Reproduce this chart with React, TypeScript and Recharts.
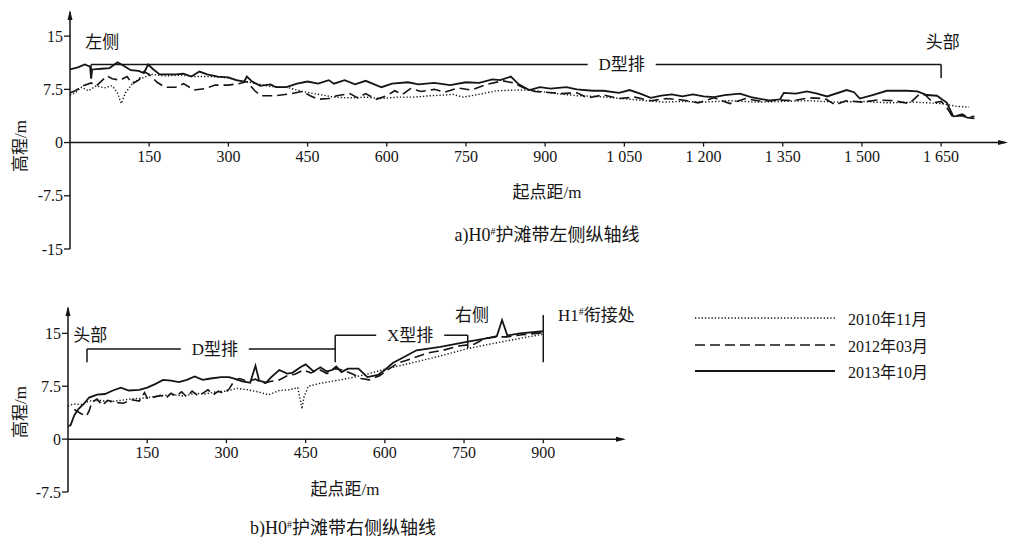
import React from "react";
import { LineChart, Line, XAxis, YAxis, ReferenceLine, ReferenceDot, Legend } from "recharts";

const INK = "#151515";
const FONT = '"Liberation Serif", "Times New Roman", "Noto Sans CJK SC", serif';

// ---- a) left longitudinal axis, [distance m, elevation m]
const top2010 = [
  [0, 6.7], [10, 7.0], [22, 7.8], [35, 7.3], [50, 8.0], [65, 7.7], [80, 8.0], [90, 7.0], [97, 5.5], [105, 7.0],
  [120, 8.5], [140, 9.2], [155, 9.6], [180, 9.4], [210, 9.5], [240, 9.3], [270, 9.3], [300, 9.1], [320, 8.7],
  [340, 8.5], [360, 8.2], [380, 7.9], [410, 7.8], [440, 7.2], [470, 6.8], [500, 6.4], [530, 6.3], [560, 6.4],
  [590, 6.2], [620, 6.4], [650, 6.4], [682, 6.6], [710, 6.7], [725, 6.8], [745, 6.4], [775, 6.8], [808, 7.3],
  [846, 7.4], [860, 7.4], [884, 7.3], [910, 7.0], [934, 6.8], [960, 6.6], [998, 6.5], [1030, 6.3], [1061, 6.1],
  [1090, 5.9], [1124, 5.7], [1160, 5.8], [1200, 5.7], [1250, 5.9], [1300, 5.7], [1350, 5.8], [1400, 5.9],
  [1450, 5.7], [1500, 5.8], [1550, 5.6], [1600, 5.7], [1650, 5.5], [1680, 5.1], [1703, 5.0],
];
const top2012 = [
  [0, 7.0], [10, 7.3], [25, 8.0], [40, 8.4], [50, 8.0], [60, 8.7], [70, 9.4], [80, 9.0], [95, 8.8], [108, 9.3],
  [118, 8.3], [130, 8.8], [140, 10.0], [150, 9.6], [165, 8.5], [180, 7.8], [200, 7.8], [215, 8.3], [235, 7.4],
  [255, 7.6], [275, 8.1], [300, 8.1], [320, 8.3], [335, 8.6], [350, 7.3], [362, 6.6], [390, 6.6], [420, 6.9],
  [440, 7.2], [455, 6.6], [470, 6.1], [490, 6.2], [505, 6.6], [530, 6.9], [545, 6.3], [560, 6.9], [580, 6.1],
  [600, 6.6], [615, 7.3], [630, 6.8], [645, 7.6], [665, 7.2], [690, 7.5], [710, 7.1], [735, 7.7], [760, 7.4],
  [790, 8.2], [820, 8.7], [840, 8.4], [860, 7.7], [880, 7.2], [900, 7.1], [930, 6.9], [960, 7.0], [980, 6.3],
  [1010, 6.7], [1040, 6.2], [1070, 6.4], [1100, 5.9], [1130, 6.2], [1160, 6.0], [1190, 5.6], [1220, 6.3],
  [1250, 5.5], [1280, 6.2], [1310, 5.8], [1340, 6.0], [1370, 5.9], [1400, 6.3], [1430, 6.2], [1450, 5.3],
  [1470, 5.9], [1500, 5.7], [1530, 6.0], [1560, 5.9], [1590, 5.5], [1610, 6.9], [1620, 6.7], [1635, 5.6],
  [1650, 5.8], [1662, 4.8], [1672, 3.6], [1690, 4.0], [1700, 3.6], [1713, 3.7],
];
const top2013 = [
  [0, 10.3], [15, 10.6], [28, 11.0], [38, 10.7], [40, 9.0], [42, 10.3], [60, 10.4], [75, 10.5], [90, 11.3],
  [100, 10.9], [115, 10.2], [130, 10.1], [140, 9.8], [148, 11.0], [158, 10.3], [170, 9.6], [200, 9.6], [215, 9.7],
  [230, 9.3], [245, 10.0], [260, 9.6], [280, 9.3], [300, 9.2], [315, 8.8], [330, 8.6], [335, 9.3], [345, 8.6],
  [360, 8.0], [380, 8.2], [390, 7.8], [410, 7.8], [430, 8.3], [450, 8.6], [470, 8.3], [490, 8.8], [500, 8.3],
  [520, 8.8], [540, 8.2], [560, 8.7], [590, 7.8], [610, 8.3], [640, 8.5], [660, 8.2], [690, 8.4], [720, 8.1],
  [750, 8.5], [775, 8.4], [800, 8.9], [815, 8.8], [835, 9.3], [850, 8.2], [870, 7.4], [890, 7.8], [910, 7.6],
  [940, 7.8], [960, 7.5], [990, 7.3], [1010, 7.3], [1040, 7.0], [1060, 7.4], [1080, 6.9], [1100, 6.3],
  [1120, 6.6], [1140, 6.8], [1160, 6.5], [1180, 6.8], [1200, 6.5], [1220, 6.4], [1240, 6.7], [1269, 6.9],
  [1290, 6.4], [1326, 5.9], [1345, 6.1], [1352, 7.0], [1375, 6.9], [1396, 7.2], [1415, 6.9], [1434, 6.5],
  [1471, 7.4], [1485, 7.1], [1496, 6.2], [1520, 6.7], [1547, 7.3], [1585, 7.3], [1605, 7.2], [1623, 6.7],
  [1642, 6.6], [1661, 5.6], [1673, 3.7], [1690, 3.8], [1700, 3.5], [1713, 3.4],
];

// ---- b) right longitudinal axis
const bot2010 = [
  [0, 4.7], [10, 5.0], [25, 4.9], [40, 5.4], [60, 5.5], [80, 5.3], [100, 5.5], [120, 5.7], [140, 5.8],
  [160, 6.0], [180, 6.2], [200, 6.3], [220, 6.1], [240, 6.5], [260, 6.4], [280, 6.7], [300, 6.8], [320, 7.2],
  [340, 7.0], [360, 6.7], [380, 6.3], [400, 6.9], [420, 7.0], [435, 7.3], [440, 5.5], [443, 4.3], [447, 6.0],
  [455, 7.5], [477, 7.9], [500, 8.2], [530, 8.6], [560, 9.1], [604, 10.0], [650, 10.8], [700, 11.7],
  [755, 12.8], [800, 13.5], [850, 14.2], [900, 14.9],
];
const bot2012 = [
  [12, 4.2], [25, 3.6], [35, 3.3], [40, 4.0], [45, 5.2], [55, 5.7], [65, 4.8], [75, 5.5], [90, 5.2],
  [105, 5.1], [120, 5.6], [135, 5.4], [145, 6.6], [150, 5.8], [160, 5.9], [175, 6.2], [185, 5.8], [195, 6.5],
  [205, 6.1], [215, 6.7], [225, 6.0], [235, 6.8], [245, 6.2], [255, 6.5], [265, 7.0], [275, 6.3], [285, 6.8],
  [295, 6.5], [305, 7.1], [315, 8.3], [325, 8.6], [340, 8.2], [355, 8.5], [370, 7.9], [385, 8.2], [400, 8.4],
  [415, 9.0], [430, 9.2], [445, 9.8], [460, 9.4], [475, 9.9], [490, 9.3], [505, 10.0], [520, 9.8], [540, 9.2],
  [555, 8.6], [570, 8.4], [590, 9.0], [605, 9.8], [625, 10.8], [650, 11.4], [680, 12.2], [710, 12.6],
  [740, 13.2], [770, 13.5], [790, 14.3], [810, 14.5], [830, 14.5], [860, 14.8], [900, 15.1],
];
const bot2013 = [
  [0, 1.8], [5, 2.0], [12, 3.4], [20, 4.3], [30, 5.0], [40, 5.9], [55, 6.3], [70, 6.4], [85, 6.9], [100, 7.3],
  [115, 6.9], [135, 7.0], [150, 7.3], [165, 7.8], [180, 8.4], [195, 8.3], [210, 8.1], [225, 8.4], [240, 8.9],
  [255, 8.4], [270, 8.6], [290, 8.8], [305, 8.8], [318, 8.5], [330, 8.2], [345, 8.0], [355, 10.4], [362, 8.3],
  [375, 8.0], [385, 8.8], [400, 9.8], [415, 9.3], [425, 9.4], [440, 10.2], [450, 10.6], [465, 9.6], [478, 10.2],
  [490, 9.6], [500, 9.8], [508, 10.3], [518, 9.5], [530, 10.0], [550, 10.0], [567, 8.8], [587, 9.1], [600, 9.8],
  [615, 10.8], [640, 11.8], [660, 12.6], [705, 13.1], [755, 13.8], [800, 14.4], [812, 14.6], [822, 16.9],
  [832, 14.7], [856, 15.0], [900, 15.3],
];

const topXTicks = [150, 300, 450, 600, 750, 900, 1050, 1200, 1350, 1500, 1650];
const botXTicks = [150, 300, 450, 600, 750, 900];
const topYTicks = [-15, -7.5, 0, 7.5, 15];
const botYTicks = [-7.5, 0, 7.5, 15];

const SERIES = [
  { name: "2010年11月", dash: "1.3 2", width: 1.4 },
  { name: "2012年03月", dash: "10 5", width: 1.6 },
  { name: "2013年10月", dash: undefined, width: 1.8 },
];

const toPts = (arr: number[][]) => arr.map(([x, y]) => ({ x, y }));
const fmtDist = (v: number) => (v >= 1000 ? `${Math.floor(v / 1000)} ${String(v % 1000).padStart(3, "0")}` : String(v));

// small svg helpers used as ReferenceDot shapes
const xTick = (label: string) => (p: any) => (
  <g>
    <line x1={p.cx} y1={p.cy} x2={p.cx} y2={p.cy + 4} stroke={INK} strokeWidth={1.3} />
    <text x={p.cx} y={p.cy + 19} textAnchor="middle" fontSize={16} fontFamily={FONT} fill={INK}>{label}</text>
  </g>
);
const note = (label: string, anchor: "start" | "middle" = "middle", sup?: [string, string]) => (p: any) => (
  <text x={p.cx} y={p.cy} dy="0.35em" textAnchor={anchor} fontSize={17} fontFamily={FONT} fill={INK}>
    {sup ? (
      <>
        <tspan>{sup[0]}</tspan>
        <tspan dy={-6} fontSize={10}>#</tspan>
        <tspan dy={6}>{sup[1]}</tspan>
      </>
    ) : label}
  </text>
);
const noteBg = (label: string) => (p: any) => (
  <g>
    <rect x={p.cx - 34} y={p.cy - 10} width={68} height={20} fill="#fff" />
    <text x={p.cx} y={p.cy} dy="0.35em" textAnchor="middle" fontSize={17} fontFamily={FONT} fill={INK}>{label}</text>
  </g>
);
const arrowRight = (p: any) => <polygon points={`${p.cx + 3},${p.cy} ${p.cx - 7},${p.cy - 2.5} ${p.cx - 7},${p.cy + 2.5}`} fill={INK} />;
const arrowUp = (p: any) => <polygon points={`${p.cx},${p.cy - 2} ${p.cx - 2.5},${p.cy + 8} ${p.cx + 2.5},${p.cy + 8}`} fill={INK} />;

const seg = (x1: number, y1: number, x2: number, y2: number, k: string) => (
  <ReferenceLine key={k} segment={[{ x: x1, y: y1 }, { x: x2, y: y2 }]} stroke={INK} strokeWidth={1.5} ifOverflow="visible" />
);

const yAxisProps = {
  width: 40,
  axisLine: { stroke: INK, strokeWidth: 1.5 },
  tickLine: { stroke: INK, strokeWidth: 1.3 },
  tickSize: 6,
  tickMargin: 1,
  tick: { fontSize: 16, fontFamily: FONT, fill: INK },
  interval: 0 as const,
};

function seriesLines(data: number[][][]) {
  return SERIES.map((s, i) => (
    <Line
      key={s.name}
      data={toPts(data[i])}
      dataKey="y"
      name={s.name}
      type="linear"
      stroke={INK}
      strokeWidth={s.width}
      strokeDasharray={s.dash}
      dot={false}
      activeDot={false}
      isAnimationActive={false}
    />
  ));
}

function LegendBox() {
  return (
    <div style={{ fontFamily: FONT, color: INK }}>
      {SERIES.map((s) => (
        <div key={s.name} style={{ display: "flex", alignItems: "center", height: 26.5 }}>
          <svg width={140} height={6}>
            <line x1={0} y1={3} x2={140} y2={3} stroke={INK} strokeWidth={s.width} strokeDasharray={s.dash} />
          </svg>
          <span style={{ marginLeft: 13, fontSize: 16 }}>{s.name}</span>
        </div>
      ))}
    </div>
  );
}

const abs = (left: number, top: number, extra: React.CSSProperties = {}): React.CSSProperties => ({
  position: "absolute",
  left,
  top,
  transform: "translate(-50%, -50%)",
  whiteSpace: "nowrap",
  ...extra,
});
const Sup = () => <span style={{ fontSize: "0.55em", position: "relative", top: "-0.6em" }}>#</span>;

export default function App() {
  return (
    <div style={{ position: "absolute", left: 0, top: 0, width: 1010, height: 537, background: "#fff", fontFamily: FONT, color: INK, overflow: "hidden" }}>
      {/* a) */}
      <div style={{ position: "absolute", left: 0, top: 0 }}>
        <LineChart width={1010} height={270} margin={{ top: 12, right: 5, bottom: 21, left: 30 }}>
          <XAxis type="number" dataKey="x" domain={[0, 1771]} hide allowDataOverflow />
          <YAxis type="number" domain={[-15, 18.4]} ticks={topYTicks} allowDataOverflow {...yAxisProps} />
          <ReferenceLine y={0} stroke={INK} strokeWidth={1.5} />
          <ReferenceDot x={1771} y={0} r={1} shape={arrowRight} ifOverflow="visible" />
          <ReferenceDot x={0} y={18.4} r={1} shape={arrowUp} ifOverflow="visible" />
          {topXTicks.map((t) => (
            <ReferenceDot key={t} x={t} y={0} r={1} shape={xTick(fmtDist(t))} ifOverflow="visible" />
          ))}
          {seriesLines([top2010, top2012, top2013])}
          {seg(40, 11, 1650, 11, "h")}
          {seg(40, 11, 40, 9.3, "l")}
          {seg(1650, 11, 1650, 9.1, "r")}
          <ReferenceDot x={1045} y={11} r={1} shape={noteBg("D型排")} ifOverflow="visible" />
          <ReferenceDot x={61} y={14.1} r={1} shape={note("左侧")} ifOverflow="visible" />
          <ReferenceDot x={1653} y={14.2} r={1} shape={note("头部")} ifOverflow="visible" />
        </LineChart>
      </div>
      <div style={abs(18, 146, { transform: "translate(-50%, -50%) rotate(-90deg)", fontSize: 17 })}>高程/m</div>
      <div style={abs(547, 190, { fontSize: 17 })}>起点距/m</div>
      <div style={abs(547, 233, { fontSize: 18 })}>a)H0<Sup />护滩带左侧纵轴线</div>

      {/* b) */}
      <div style={{ position: "absolute", left: 0, top: 290 }}>
        <LineChart width={1010} height={210} margin={{ top: 18, right: 387, bottom: 8, left: 28 }}>
          <XAxis type="number" dataKey="x" domain={[0, 1051]} hide allowDataOverflow />
          <YAxis type="number" domain={[-7.5, 18.6]} ticks={botYTicks} allowDataOverflow {...yAxisProps} />
          <ReferenceLine y={0} stroke={INK} strokeWidth={1.5} />
          <ReferenceDot x={1051} y={0} r={1} shape={arrowRight} ifOverflow="visible" />
          <ReferenceDot x={0} y={18.6} r={1} shape={arrowUp} ifOverflow="visible" />
          {botXTicks.map((t) => (
            <ReferenceDot key={t} x={t} y={0} r={1} shape={xTick(fmtDist(t))} ifOverflow="visible" />
          ))}
          {seriesLines([bot2010, bot2012, bot2013])}
          {seg(36, 12.8, 506, 12.8, "h1")}
          {seg(36, 12.8, 36, 10.9, "v1")}
          {seg(506, 14.75, 506, 10.9, "v2")}
          {seg(506, 14.75, 757, 14.75, "h2")}
          {seg(757, 14.75, 757, 12.9, "v3")}
          {seg(900, 17.6, 900, 10.9, "v4")}
          <ReferenceDot x={278} y={12.8} r={1} shape={noteBg("D型排")} ifOverflow="visible" />
          <ReferenceDot x={648} y={14.75} r={1} shape={noteBg("X型排")} ifOverflow="visible" />
          <ReferenceDot x={42} y={14.75} r={1} shape={note("头部")} ifOverflow="visible" />
          <ReferenceDot x={765} y={17.6} r={1} shape={note("右侧")} ifOverflow="visible" />
          <ReferenceDot x={928} y={17.6} r={1} shape={note("", "start", ["H1", "衔接处"])} ifOverflow="visible" />
          <Legend
            layout="horizontal"
            verticalAlign="middle"
            align="center"
            content={() => <LegendBox />}
            wrapperStyle={{ position: "absolute", left: 695, top: 15, width: 280, height: 80 }}
          />
        </LineChart>
      </div>
      <div style={abs(18, 412, { transform: "translate(-50%, -50%) rotate(-90deg)", fontSize: 17 })}>高程/m</div>
      <div style={abs(345, 487, { fontSize: 17 })}>起点距/m</div>
      <div style={abs(343, 526, { fontSize: 18 })}>b)H0<Sup />护滩带右侧纵轴线</div>
    </div>
  );
}
